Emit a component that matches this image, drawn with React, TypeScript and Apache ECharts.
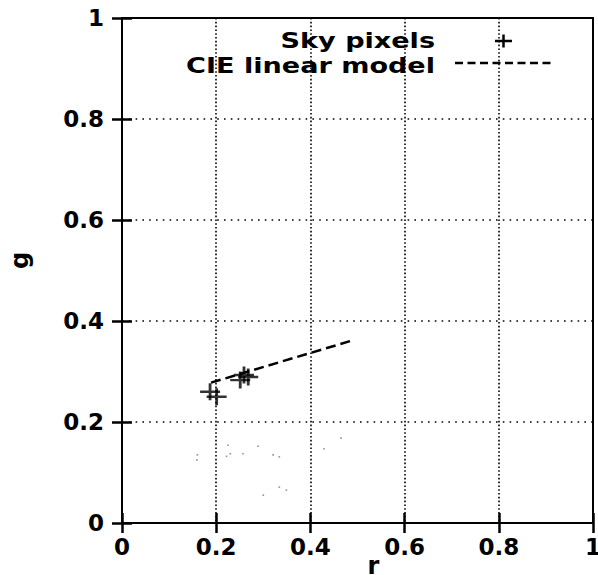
import React, { useEffect, useRef } from "react";
import * as echarts from "echarts";

const xTicks = [0, 0.2, 0.4, 0.6, 0.8, 1];
const yTicks = [0, 0.2, 0.4, 0.6, 0.8, 1];

const skyR = [0.187, 0.201, 0.251, 0.259, 0.268];
const skyG = [0.26, 0.25, 0.283, 0.293, 0.289];

const modelR = [0.189, 0.491];
const modelG = [0.278, 0.362];

const faintR = [0.16, 0.225, 0.23, 0.257, 0.289, 0.321, 0.334, 0.3, 0.334, 0.349, 0.429, 0.465, 0.222, 0.159];
const faintG = [0.135, 0.154, 0.137, 0.137, 0.152, 0.135, 0.131, 0.055, 0.071, 0.065, 0.147, 0.168, 0.132, 0.125];

const legendLabels = ["Sky pixels", "CIE linear model"];

const FONT = '"DejaVu Sans", sans-serif';

export default function App() {
  const ref = useRef<HTMLDivElement>(null);
  useEffect(() => {
    if (!ref.current) return;
    const chart = echarts.init(ref.current, null, { renderer: "svg" });
    const labelStyle = {
      color: "#000",
      fontFamily: FONT,
      fontWeight: "bold" as const,
      fontSize: 23,
    };
    const tickStyle = { show: true, inside: true, length: 10, lineStyle: { color: "#000", width: 2.5 } };
    const axisLine = { show: true, lineStyle: { color: "#000", width: 2 } };
    const xMin = xTicks[0];
    const xMax = xTicks[xTicks.length - 1];
    const yMin = yTicks[0];
    const yMax = yTicks[yTicks.length - 1];
    const xInt = xTicks[1] - xTicks[0];
    const yInt = yTicks[1] - yTicks[0];
    chart.setOption({
      animation: false,
      backgroundColor: "#fff",
      grid: {
        left: 122, right: 5, top: 18, bottom: 52, show: true, borderColor: "#000", borderWidth: 2,
        backgroundColor: "transparent", containLabel: false, outerBoundsMode: "none",
      },
      xAxis: [
        {
          type: "value", min: xMin, max: xMax, interval: xInt, position: "bottom",
          axisLine, axisTick: tickStyle,
          axisLabel: { ...labelStyle, margin: 12 },
          splitLine: { show: true, lineStyle: { color: "#000", width: 1.6, type: [1.6, 2.2] } },
          name: "r", nameLocation: "middle", nameGap: 31, nameMoveOverlap: false,
          nameTextStyle: { ...labelStyle, fontSize: 24, padding: [0, 0, 0, 32] },
        },
        {
          type: "value", min: xMin, max: xMax, interval: xInt, position: "top",
          axisLine, axisTick: tickStyle, axisLabel: { show: false }, splitLine: { show: false },
        },
      ],
      yAxis: [
        {
          type: "value", min: yMin, max: yMax, interval: yInt, position: "left",
          axisLine, axisTick: tickStyle,
          axisLabel: { ...labelStyle, margin: 18, padding: [9, 0, 0, 0] },
          splitLine: { show: true, lineStyle: { color: "#000", width: 1.6, type: [1.6, 5.2] } },
          name: "g", nameLocation: "middle", nameGap: 90, nameRotate: 90, nameMoveOverlap: false,
          nameTextStyle: { ...labelStyle, fontSize: 24, padding: [0, 0, 0, 20] },
        },
        {
          type: "value", min: yMin, max: yMax, interval: yInt, position: "right",
          axisLine, axisTick: tickStyle, axisLabel: { show: false }, splitLine: { show: false },
        },
      ],
      series: [
        {
          name: legendLabels[1],
          type: "line",
          data: modelR.map((r, i) => [r, modelG[i]]),
          showSymbol: false,
          symbol: "none",
          lineStyle: { color: "#000", width: 2.5, type: [10, 5] },
          z: 3,
        },
        {
          name: legendLabels[0],
          type: "scatter",
          data: skyR.map((r, i) => [r, skyG[i]]),
          symbol: "path://M0,-1L0,1M-1,0L1,0",
          symbolSize: [20, 17],
          itemStyle: { color: "transparent", borderColor: "#000", borderWidth: 2.6 },
          z: 4,
        },
        {
          name: "faint",
          type: "scatter",
          data: faintR.map((r, i) => [r, faintG[i]]),
          symbol: "rect",
          symbolSize: 1.6,
          itemStyle: { color: "#777" },
          z: 2,
        },
      ],
      graphic: [
        {
          type: "text", x: 435, y: 41, scaleX: 1.29, z: 10,
          style: { text: legendLabels[0], x: 0, y: 0, align: "right", verticalAlign: "middle", font: `bold 21px ${FONT}`, fill: "#000" },
        },
        { type: "line", z: 10, shape: { x1: 495, y1: 41, x2: 512, y2: 41 }, style: { stroke: "#000", lineWidth: 2.5 } },
        { type: "line", z: 10, shape: { x1: 503.5, y1: 34.5, x2: 503.5, y2: 47.5 }, style: { stroke: "#000", lineWidth: 2.5 } },
        {
          type: "text", x: 435, y: 66, scaleX: 1.29, z: 10,
          style: { text: legendLabels[1], x: 0, y: 0, align: "right", verticalAlign: "middle", font: `bold 21px ${FONT}`, fill: "#000" },
        },
        { type: "line", z: 10, shape: { x1: 455, y1: 63, x2: 553, y2: 63 }, style: { stroke: "#000", lineWidth: 2.5, lineDash: [8, 4.5] } },
      ],
    });
    return () => chart.dispose();
  }, []);
  return <div ref={ref} style={{ position: "absolute", left: 0, top: 0, width: 598, height: 575 }} />;
}
